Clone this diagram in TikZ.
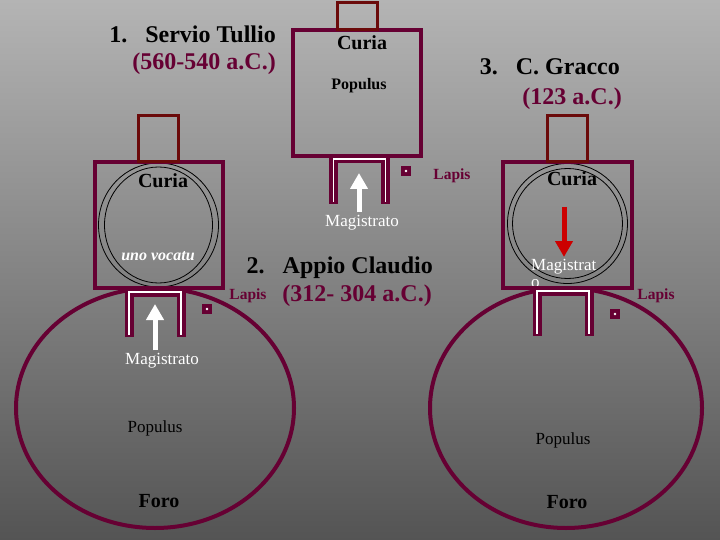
\documentclass[tikz,border=0pt]{standalone}
\usepackage{fontspec}
\setmainfont{Liberation Serif}
\usetikzlibrary{arrows.meta, positioning}

\definecolor{bordeaux}{HTML}{660033}
\definecolor{mattone}{HTML}{6B0A0A}
\definecolor{rosso}{HTML}{CC0000}
\definecolor{fondoalto}{RGB}{180,180,180}
\definecolor{fondobasso}{RGB}{84,84,84}
\newcommand{\corpo}[2][]{\fontsize{#2}{17}\selectfont}

\begin{document}
\begin{tikzpicture}[x=1pt, y=-1pt,
  titolo/.style={font=\bfseries\corpo{24}, inner sep=0pt},
  data/.style={titolo, text=bordeaux},
  curia/.style={font=\bfseries\corpo{20}, inner sep=0pt},
  testo/.style={font=\corpo{17}, inner sep=0pt},
  magistrato/.style={font=\corpo{17}, text=white, inner sep=0pt},
  lapis/.style={font=\bfseries\corpo{15.5}, text=bordeaux, inner sep=0pt},
  muro/.style={draw=bordeaux, line width=4pt},
  annesso/.style={draw=mattone, line width=3pt},
  piazza/.style={draw=bordeaux, line width=4pt},
  cerchio/.style={draw=black, line width=0.8pt},
  pietra/.style={fill=bordeaux, minimum size=10pt, inner sep=0pt},
  freccia/.style={line width=5pt, -{Triangle[width=17pt, length=16pt]}},
  porta/.pic={
    \draw[bordeaux, line width=9pt] (-26,45) -- (-26,0) -- (26,0) -- (26,45);
    \draw[white, line width=1.6pt] (-26,43) -- (-26,0) -- (26,0) -- (26,43);
  }]
  \useasboundingbox (0,0) rectangle (720,540);
  \shade[top color=fondoalto, bottom color=fondobasso] (0,0) rectangle (720,540);

  % foro
  \draw[piazza] (155,408) ellipse [x radius=139, y radius=120];
  \draw[piazza] (566,408) ellipse [x radius=136, y radius=120];

  % comizio
  \draw[cerchio] (158.5,225) ellipse [x radius=60, y radius=62];
  \draw[cerchio] (158.5,225) ellipse [x radius=54, y radius=58];
  \draw[cerchio] (567.5,223.5) circle (60);
  \draw[cerchio] (567.5,223.5) circle (55);

  \node[magistrato, font=\bfseries\itshape\corpo{16}] (vocatu) at (158,256) {uno vocatu};
  \node[magistrato, align=left, anchor=north west] (mag3) at (531,259) {Magistrat\\o};

  % curia
  \draw[muro] (95,162) rectangle (223,288);
  \draw[muro] (293,30) rectangle (421,156);
  \draw[muro] (503,162) rectangle (632,288);
  \draw[annesso] (138,116) rectangle (178,162);
  \draw[annesso] (337,3) rectangle (377,30);
  \draw[annesso] (547,116) rectangle (587,162);

  \node[curia] (curia1) at (163,181) {Curia};
  \node[curia] (curia2) at (362,43) {Curia};
  \node[curia] (curia3) at (572,179) {Curia};
  \node[testo, font=\bfseries\corpo{16}] (pop2) at (359,86) {Populus};

  % porte
  \pic at (155,292) {porta};
  \pic at (359.5,159) {porta};
  \pic at (563,291) {porta};

  % magistrati
  \node[magistrato] (mag1) at (162,361) {Magistrato};
  \node[magistrato] (mag2) at (362,223) {Magistrato};
  \coordinate (su1) at (155,304);
  \coordinate (su2) at (359,173);
  \coordinate (da3) at (564,207);
  \coordinate (giu3) at (564,257);
  \draw[freccia, white] (mag1.north -| su1) ++(0,-3) -- (su1);
  \draw[freccia, white] (mag2.north -| su2) ++(0,-3) -- (su2);
  \draw[freccia, rosso] (da3) -- (giu3);

  % lapis niger
  \node[pietra] (lp1) at (207,309) {};
  \node[pietra] (lp2) at (406,171) {};
  \node[pietra] (lp3) at (615,314) {};
  \foreach \p in {lp1, lp2, lp3}
    \fill[white] (\p) circle (1.3);
  \node[lapis] (lab1) at (248,296) {Lapis};
  \node[lapis] (lab2) at (452,176) {Lapis};
  \node[lapis] (lab3) at (656,296) {Lapis};

  \node[testo] (pop1) at (155,428) {Populus};
  \node[testo] (pop3) at (563,440) {Populus};
  \node[curia] (foro1) at (159,501) {Foro};
  \node[curia] (foro3) at (567,502) {Foro};

  % titoli
  \node[titolo, anchor=base east] (t1) at (276,43) {1.\hspace{18pt}Servio Tullio};
  \node[data, anchor=base east] (d1) at (276,70) {(560-540 a.C.)};
  \node[titolo, anchor=base east] (t2) at (433,273) {2.\hspace{18pt}Appio Claudio};
  \node[data, anchor=base east] (d2) at (432,301) {(312- 304 a.C.)};
  \node[titolo, anchor=base east] (t3) at (620,75) {3.\hspace{18pt}C. Gracco};
  \node[data, anchor=base east] (d3) at (622,105) {(123 a.C.)};
\end{tikzpicture}
\end{document}
